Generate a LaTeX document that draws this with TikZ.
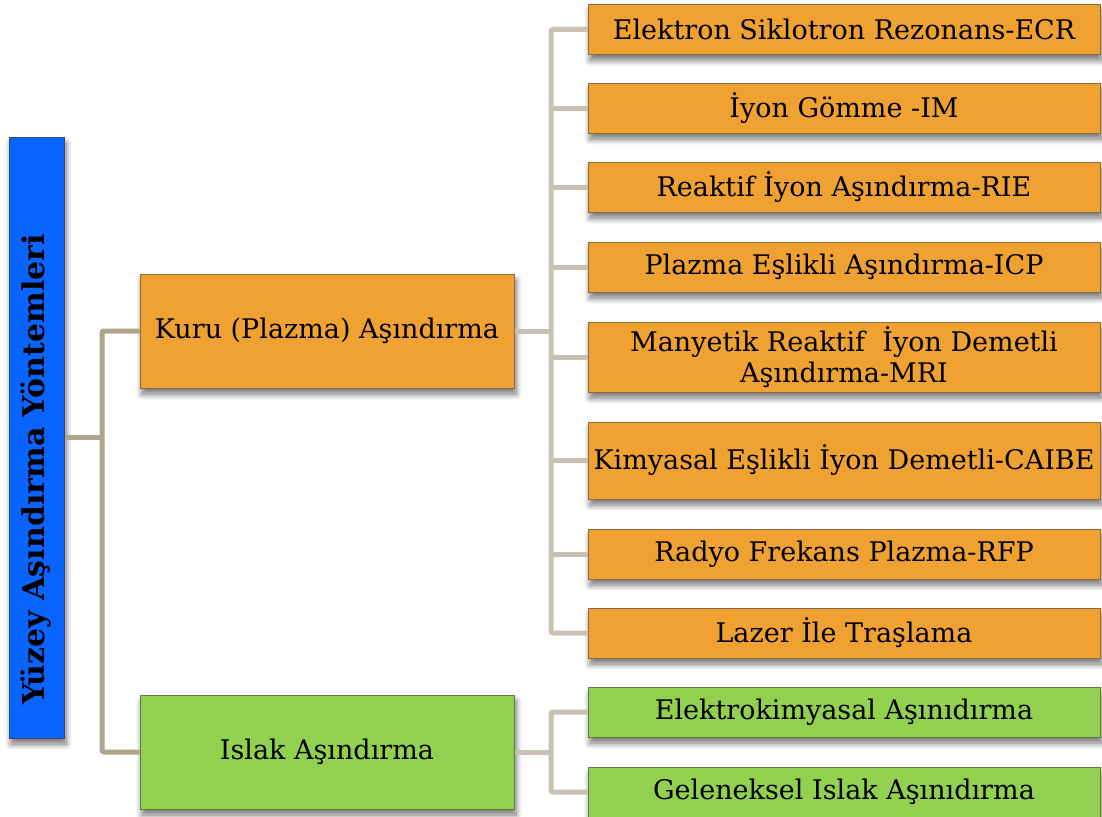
\documentclass[tikz,border=0pt]{standalone}
\usepackage{fontspec}
\setmainfont{DejaVu Serif}
\usepackage{tikz}
\usetikzlibrary{positioning,calc,shadows.blur}

\definecolor{kuruFill}{HTML}{EFA232}
\definecolor{kuruLine}{HTML}{8A6A40}
\definecolor{islakFill}{HTML}{92D050}
\definecolor{islakLine}{HTML}{5E7A44}
\definecolor{rootFill}{HTML}{0A64FF}
\definecolor{rootLine}{HTML}{3A4670}
\definecolor{connDark}{HTML}{AFA48C}
\definecolor{connLight}{HTML}{C9C1B3}

\tikzset{
    box/.style={draw, line width=1pt, align=center, inner sep=0pt,
        font=\fontsize{27}{31}\selectfont,
        blur shadow={shadow xshift=2pt, shadow yshift=-6pt, shadow blur radius=6pt,
            shadow blur steps=10, shadow opacity=55}},
    kurubox/.style={box, fill=kuruFill, draw=kuruLine},
    islakbox/.style={box, fill=islakFill, draw=islakLine},
    leafbox/.style={kurubox, minimum width=512pt, minimum height=50pt},
    wetbox/.style={islakbox, minimum width=512pt, minimum height=50pt},
    connA/.style={draw=connDark, line width=5pt, rounded corners=2pt},
    connB/.style={draw=connLight, line width=5pt, rounded corners=2pt}
}

\begin{document}
\begin{tikzpicture}[x=1pt, y=-1pt]
    \useasboundingbox (0,0) rectangle (1102,816);

    % trunk positions
    \coordinate (trunkL) at (102,0);
    \coordinate (trunkR) at (551,0);

    % root
    \node[box, fill=rootFill, draw=rootLine, minimum width=55pt, minimum height=601pt,
        font=\fontsize{30}{34}\selectfont\bfseries] (root) at (36.5,437.5)
        {\rotatebox{90}{Yüzey Aşındırma Yöntemleri\hspace{64pt}}};

    % main branches
    \node[kurubox, minimum width=374pt, minimum height=114pt] (kuru) at (327,331) {Kuru (Plazma) Aşındırma};
    \node[islakbox, minimum width=374pt, minimum height=114pt] (islak) at (327,752) {Islak Aşındırma};

    % dry etching leaves
    \node[leafbox] (ecr) at (844,29.5) {Elektron Siklotron Rezonans-ECR};
    \node[leafbox] (im) at (844,108) {İyon Gömme -IM};
    \node[leafbox] (rie) at (844,187) {Reaktif İyon Aşındırma-RIE};
    \node[leafbox] (icp) at (844,267) {Plazma Eşlikli Aşındırma-ICP};
    \node[leafbox, minimum height=70pt] (mri) at (844,357) {Manyetik Reaktif \ İyon Demetli\\Aşındırma-MRI};
    \node[leafbox, minimum height=77pt] (caibe) at (844,460.5) {Kimyasal Eşlikli İyon Demetli-CAIBE};
    \node[leafbox] (rfp) at (844,554) {Radyo Frekans Plazma-RFP};
    \node[leafbox] (lazer) at (844,633) {Lazer İle Traşlama};

    % wet etching leaves
    \node[wetbox] (elk) at (844,712) {Elektrokimyasal Aşınıdırma};
    \node[wetbox] (gel) at (844,792) {Geleneksel Islak Aşınıdırma};

    % left tree
    \draw[connA] (root.east) -- (root.east -| trunkL);
    \draw[connA] (kuru.west) -- (kuru.west -| trunkL) |- (islak.west);

    % right tree
    \draw[connB] (kuru.east) -- (kuru.east -| trunkR);
    \draw[connB] (ecr.west) -- (ecr.west -| trunkR) |- (lazer.west);
    \foreach \n in {im,rie,icp,mri,caibe,rfp}
        \draw[connB] (\n.west) -- (\n.west -| trunkR);
    \draw[connB] (islak.east) -- (islak.east -| trunkR);
    \draw[connB] (elk.west) -- (elk.west -| trunkR) |- (gel.west);
\end{tikzpicture}
\end{document}
